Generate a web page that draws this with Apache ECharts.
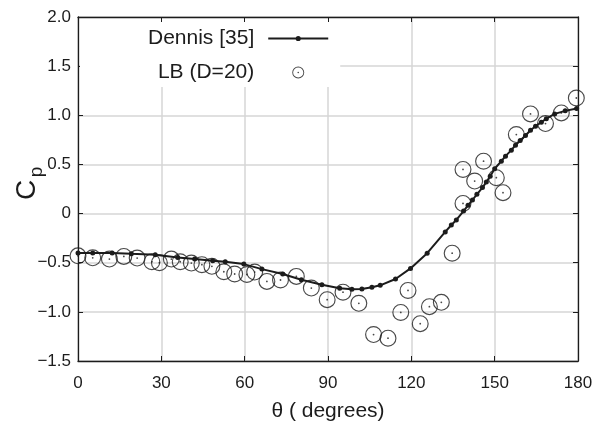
<!DOCTYPE html>
<html>
<head>
<meta charset="utf-8">
<script src="https://cdn.jsdelivr.net/npm/echarts@6/dist/echarts.min.js"></script>
<style>
html,body{margin:0;padding:0;background:#fff;}
#chart{width:609px;height:427px;}
</style>
</head>
<body>
<div id="chart"></div>
<script>
// Dennis [35] reference curve
const thetaDennis = [0, 5.3, 12.3, 19.2, 27.8, 35.9, 42, 48.5, 53, 59.7, 66.2, 73.7, 80.4, 87.8, 94.2, 98.6, 102.2, 105.8, 108.8, 114.3, 119.7, 125.7, 132.2, 134.4, 136.2, 138.8, 140.4, 142, 143.6, 145.6, 147, 148.4, 150, 152.4, 153.9, 156, 157.5, 159.2, 161.1, 162.9, 164.7, 166.8, 168.6, 171.6, 175.4, 179.5];
const cpDennis = [-0.40, -0.40, -0.40, -0.41, -0.42, -0.446, -0.463, -0.48, -0.49, -0.514, -0.565, -0.615, -0.673, -0.724, -0.76, -0.77, -0.768, -0.75, -0.73, -0.666, -0.558, -0.403, -0.187, -0.116, -0.065, 0.026, 0.084, 0.138, 0.196, 0.264, 0.32, 0.38, 0.456, 0.533, 0.584, 0.645, 0.696, 0.743, 0.794, 0.848, 0.888, 0.929, 0.966, 1.014, 1.045, 1.07];
// LB (D=20) points
const thetaLB = [0, 5.3, 11.3, 16.5, 21.3, 26.6, 29.3, 33.6, 36.8, 40.8, 44.6, 48.2, 52.5, 56.4, 60.8, 63.6, 68, 72.9, 78.6, 84, 89.7, 95.4, 101.1, 106.4, 111.6, 116.2, 118.8, 123.2, 126.5, 130.8, 134.7, 138.6, 138.6, 142.8, 146, 150.6, 153, 157.8, 162.9, 168.3, 174, 179.4];
const cpLB = [-0.43, -0.45, -0.463, -0.436, -0.453, -0.49, -0.50, -0.463, -0.49, -0.504, -0.52, -0.537, -0.592, -0.615, -0.62, -0.595, -0.69, -0.676, -0.639, -0.758, -0.876, -0.80, -0.913, -1.231, -1.268, -1.006, -0.782, -1.12, -0.947, -0.903, -0.403, 0.103, 0.449, 0.331, 0.533, 0.365, 0.213, 0.804, 1.014, 0.916, 1.024, 1.176];
// ticks
const xTickValues = [0, 30, 60, 90, 120, 150, 180];
const xTickLabels = ['0', '30', '60', '90', '120', '150', '180'];
const yTickValues = [-1.5, -1, -0.5, 0, 0.5, 1, 1.5, 2];
const yTickLabels = ['\u22121.5', '\u22121.0', '\u22120.5', '0', '0.5', '1.0', '1.5', '2.0'];
const seriesNames = ['Dennis [35]', 'LB (D=20)'];

const FONT = 'Liberation Sans, Arial, Helvetica, sans-serif';
const INK = '#1c1c1c';

function lookup(vals, labels, v) {
  const i = vals.findIndex(t => Math.abs(t - v) < 1e-9);
  return i >= 0 ? labels[i] : '';
}

const ringSymbol = 'path://M0,8.5 A8.5,8.5 0 1,1 17,8.5 A8.5,8.5 0 1,1 0,8.5 Z M1.15,8.5 A7.35,7.35 0 1,0 15.85,8.5 A7.35,7.35 0 1,0 1.15,8.5 Z M7.6,8.5 A0.9,0.9 0 1,1 9.4,8.5 A0.9,0.9 0 1,1 7.6,8.5 Z';
const ringIcon = 'path://M0,6 A6,6 0 1,1 12,6 A6,6 0 1,1 0,6 Z M0.9,6 A5.1,5.1 0 1,0 11.1,6 A5.1,5.1 0 1,0 0.9,6 Z M5.2,6 A0.8,0.8 0 1,1 6.8,6 A0.8,0.8 0 1,1 5.2,6 Z';
const lineIcon = 'path://M0,5 L60,5 L60,7 L0,7 Z M27.4,6 A2.6,2.6 0 1,1 32.6,6 A2.6,2.6 0 1,1 27.4,6 Z';

const dennisData = thetaDennis.map((t, i) => [t, cpDennis[i]]);
const lbData = thetaLB.map((t, i) => [t, cpLB[i]]);

const chart = echarts.init(document.getElementById('chart'), null, {renderer: 'canvas'});

const axisCommon = {
  type: 'value',
  axisLine: {show: true, onZero: false, lineStyle: {color: INK, width: 1.3}},
  axisTick: {show: true, inside: true, length: 5, lineStyle: {color: INK, width: 1}},
};

chart.setOption({
  backgroundColor: '#fff',
  animation: false,
  textStyle: {fontFamily: FONT},
  grid: {left: 78, right: 31, top: 17, bottom: 65, containLabel: false},
  xAxis: [
    Object.assign({}, axisCommon, {
      position: 'bottom', min: 0, max: 180, interval: 30,
      name: 'θ ( degrees)', nameLocation: 'middle', nameGap: 40,
      nameTextStyle: {fontSize: 21, color: INK, fontFamily: FONT},
      axisLabel: {fontSize: 17, color: INK, margin: 14, fontFamily: FONT,
        formatter: v => lookup(xTickValues, xTickLabels, v)},
      splitLine: {show: true, lineStyle: {color: '#d6d6d6', width: 1.5}}
    }),
    Object.assign({}, axisCommon, {
      position: 'top', min: 0, max: 180, interval: 30, z: 10,
      axisLabel: {show: false}, splitLine: {show: false}
    })
  ],
  yAxis: [
    Object.assign({}, axisCommon, {
      position: 'left', min: -1.5, max: 2, interval: 0.5,
      axisLabel: {fontSize: 17, color: INK, margin: 7, fontFamily: FONT,
        formatter: v => lookup(yTickValues, yTickLabels, v)},
      splitLine: {show: true, lineStyle: {color: '#d6d6d6', width: 1.5}}
    }),
    Object.assign({}, axisCommon, {
      position: 'right', min: -1.5, max: 2, interval: 0.5, z: 10,
      axisLabel: {show: false}, splitLine: {show: false}
    })
  ],
  legend: {
    orient: 'vertical', align: 'right', left: 80, top: 18,
    padding: [10, 12, 4, 68], itemWidth: 60, itemHeight: 12, itemGap: 13,
    backgroundColor: '#fff',
    selectedMode: false,
    textStyle: {fontSize: 21, color: INK, fontFamily: FONT, padding: [0, 9, 0, 0]},
    data: [
      {name: seriesNames[0], icon: lineIcon, itemStyle: {color: INK, borderWidth: 0}},
      {name: seriesNames[1], icon: ringIcon, itemStyle: {color: INK, borderWidth: 0}}
    ]
  },
  series: [
    {
      name: seriesNames[0], type: 'line', data: dennisData,
      xAxisIndex: 0, yAxisIndex: 0,
      symbol: 'circle', symbolSize: 5, showSymbol: true,
      lineStyle: {color: INK, width: 2},
      itemStyle: {color: INK},
      z: 3
    },
    {
      name: seriesNames[1], type: 'scatter', data: lbData,
      xAxisIndex: 0, yAxisIndex: 0,
      symbol: ringSymbol, symbolSize: 17,
      itemStyle: {color: INK},
      z: 4
    }
  ],
  graphic: [
    {type: 'text', x: 27, y: 190, rotation: Math.PI / 2,
      style: {text: 'C', fontSize: 28, fill: INK, fontFamily: FONT, align: 'center', verticalAlign: 'middle'}},
    {type: 'text', x: 37, y: 172, rotation: Math.PI / 2,
      style: {text: 'p', fontSize: 19, fill: INK, fontFamily: FONT, align: 'center', verticalAlign: 'middle'}}
  ]
});
</script>
</body>
</html>
